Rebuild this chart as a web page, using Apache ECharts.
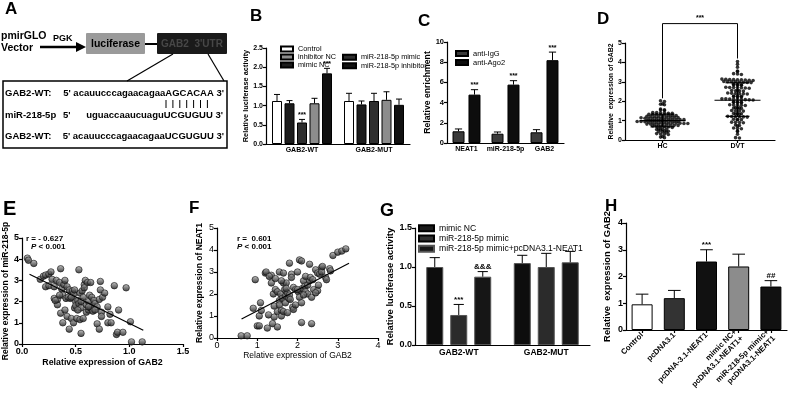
<!DOCTYPE html>
<html lang="en">
<head>
<meta charset="UTF-8">
<title>GAB2 / NEAT1 / miR-218-5p</title>
<style>
  html,body{margin:0;padding:0;background:#fff;}
  #main{width:790px;height:394px;}
</style>
</head>
<body>
<div id="main"></div>
<script src="https://cdn.jsdelivr.net/npm/echarts@6/dist/echarts.min.js"></script>
<script>
// ---------- data ----------
// B
const bCats=['GAB2-WT','GAB2-MUT'];
const bNames=['Control','mimic NC','miR-218-5p mimic','inhibitor NC','miR-218-5p inhibitor'];
const bVals=[[1.12,1.12],[1.06,1.03],[0.56,1.12],[1.06,1.15],[1.84,1.02]];
const bErr=[[0.17,0.2],[0.07,0.09],[0.08,0.2],[0.13,0.21],[0.13,0.15]];
const bMarks=[['',''],['',''],['***',''],['',''],['***','']];
// C
const cCats=['NEAT1','miR-218-5p','GAB2'];
const cNames=['anti-IgG','anti-Ago2'];
const cVals=[[1.16,0.92,1.06],[4.79,5.78,8.2]];
const cErr=[[0.23,0.17,0.26],[0.49,0.39,0.8]];
const cMarks=[['','',''],['***','***','***']];
// D
const dCats=['HC','DVT'];
const hcVals=[2.02,1.98,1.86,1.84,1.82,1.6,1.56,1.54,1.52,1.42,1.41,1.4,1.39,1.38,1.37,
  1.32,1.31,1.3,1.3,1.29,1.28,1.27,1.26,1.22,1.21,1.2,1.2,1.19,1.18,1.18,1.17,1.16,1.15,
  1.12,1.11,1.1,1.1,1.09,1.08,1.08,1.07,1.06,1.05,1.05,1.02,1.01,1.0,1.0,0.99,0.98,0.98,
  0.97,0.96,0.95,0.95,0.94,0.92,0.91,0.9,0.9,0.89,0.88,0.88,0.87,0.86,0.85,0.85,
  0.82,0.81,0.8,0.79,0.78,0.78,0.77,0.76,0.75,0.72,0.7,0.69,0.68,0.67,0.65,
  0.58,0.56,0.55,0.54,0.52,0.46,0.45,0.44,0.42,0.4,0.33,0.31,0.3,0.28,0.18,0.15,0.12];
const dvtVals=[4.05,3.9,3.75,3.56,3.53,3.42,3.4,3.38,3.14,3.13,3.12,3.11,3.1,3.1,3.09,3.08,3.07,
  3.02,3.01,3.0,3.0,2.99,2.98,2.97,2.96,2.87,2.86,2.85,2.84,2.83,2.82,
  2.72,2.71,2.7,2.7,2.69,2.68,2.67,2.56,2.55,2.54,2.53,2.52,2.42,2.41,2.4,2.39,2.38,2.37,
  2.27,2.26,2.25,2.24,2.23,2.22,2.13,2.12,2.11,2.1,2.1,2.09,2.08,2.07,2.06,
  1.97,1.96,1.95,1.94,1.93,1.92,1.82,1.81,1.8,1.79,1.78,1.67,1.66,1.65,1.64,1.63,
  1.52,1.51,1.5,1.49,1.37,1.36,1.35,1.34,1.33,1.22,1.21,1.2,1.2,1.19,1.18,
  1.07,1.06,1.05,1.04,0.92,0.91,0.9,0.89,0.77,0.75,0.73,0.62,0.6,0.58,0.47,0.44,0.3,0.12,0.1];
const dMean=[1.0,2.05];
const dSdLow=[0.68,1.22];
const dSdHigh=[1.33,2.95];
const dBracket=[2.15,4.2,6.0];
// E
const ePoints=[[0.05,4.05],[0.06,3.95],[0.11,3.8],[0.17,3.05],[0.2,3.2],[0.22,3.25],[0.22,2.7],[0.25,3.3],
  [0.27,3.4],[0.25,2.75],[0.28,3.05],[0.3,2.7],[0.3,2.15],[0.32,3.0],[0.33,1.85],[0.33,2.1],[0.35,2.9],
  [0.36,3.55],[0.37,2.6],[0.38,2.3],[0.36,1.45],[0.38,1.0],[0.39,2.8],[0.4,3.0],[0.41,2.15],[0.4,1.6],
  [0.42,2.7],[0.42,1.3],[0.43,2.2],[0.44,2.55],[0.44,0.7],[0.45,2.15],[0.46,1.2],[0.47,2.5],[0.48,1.0],
  [0.49,1.7],[0.5,2.0],[0.5,1.8],[0.51,1.2],[0.52,2.05],[0.53,3.5],[0.53,1.9],[0.54,2.4],[0.54,1.15],
  [0.55,0.5],[0.55,1.7],[0.56,2.5],[0.57,2.2],[0.57,1.2],[0.58,2.8],[0.59,3.0],[0.6,1.85],[0.6,1.5],
  [0.61,2.9],[0.62,2.0],[0.62,1.6],[0.63,2.3],[0.64,2.9],[0.64,1.7],[0.65,2.2],[0.66,1.8],[0.66,1.55],
  [0.67,2.05],[0.68,1.9],[0.7,0.95],[0.7,1.75],[0.72,2.1],[0.72,0.7],[0.73,2.95],[0.73,2.55],[0.74,1.5],
  [0.74,1.3],[0.75,2.2],[0.77,2.4],[0.8,1.75],[0.8,1.0],[0.82,1.4],[0.83,1.0],[0.86,2.75],[0.88,0.45],
  [0.89,0.55],[0.9,1.6],[0.94,0.55],[0.97,2.65],[1.01,1.05],[1.02,0.1],[1.12,0.1],[0.58,2.65],[0.48,2.35],
  [0.31,2.05],[0.68,1.6],[0.62,1.75],[0.46,2.2],[0.35,2.3],[0.55,2.0],[0.52,1.6],[0.49,2.55]];
const eLine=[[0.07,3.29],[1.13,0.65]];
// F
const fPoints=[[0.6,0.1],[0.75,0.1],[0.95,2.65],[0.9,1.35],[1.0,0.55],[1.05,0.55],[1.05,1.0],[1.08,1.6],
  [1.1,1.25],[1.2,2.95],[1.22,3.0],[1.25,0.45],[1.28,1.05],[1.35,2.85],[1.35,2.5],[1.38,0.65],[1.4,2.0],
  [1.42,1.45],[1.42,0.95],[1.45,2.7],[1.45,2.2],[1.5,2.1],[1.5,1.2],[1.5,0.5],[1.55,3.0],[1.55,1.7],
  [1.55,1.5],[1.58,2.0],[1.6,1.25],[1.6,1.0],[1.62,1.8],[1.65,2.95],[1.65,2.5],[1.65,1.2],[1.68,2.2],
  [1.7,1.9],[1.7,1.6],[1.72,2.5],[1.75,1.15],[1.75,2.05],[1.78,1.8],[1.8,3.4],[1.8,1.95],[1.82,1.75],
  [1.85,2.9],[1.85,2.75],[1.88,1.4],[1.9,1.3],[1.9,2.3],[1.95,2.2],[2.0,3.0],[2.02,2.1],[2.05,3.55],
  [2.05,1.85],[2.08,2.15],[2.1,3.5],[2.1,1.6],[2.1,0.7],[2.12,2.25],[2.15,2.6],[2.18,2.35],[2.2,2.8],
  [2.2,2.1],[2.25,2.0],[2.25,2.4],[2.3,2.6],[2.3,3.35],[2.32,2.75],[2.35,1.85],[2.35,0.65],[2.38,2.65],
  [2.4,2.2],[2.45,3.1],[2.5,2.95],[2.5,2.15],[2.52,2.4],[2.55,2.9],[2.6,3.2],[2.6,3.0],[2.62,3.25],
  [2.7,2.75],[2.72,2.65],[2.8,3.15],[2.82,3.05],[2.88,3.75],[3.0,3.9],[3.1,3.95],[3.2,4.05],[1.3,2.8],
  [1.6,2.6],[2.0,2.2],[1.95,1.5],[2.15,1.95],[1.72,2.25],[2.45,2.05]];
const fLine=[[0.61,0.86],[3.28,3.4]];
// G
const gCats=['GAB2-WT','GAB2-MUT'];
const gNames=['mimic NC','miR-218-5p mimic','miR-218-5p mimic+pcDNA3.1-NEAT1'];
const gVals=[[1.0,1.05],[0.385,1.0],[0.876,1.06]];
const gErr=[[0.12,0.1],[0.135,0.175],[0.065,0.14]];
const gMarks=[['',''],['***',''],['&&&','']];
// H
const hCats=['Control','pcDNA3.1','pcDNA-3.1-NEAT1','mimic NC+\npcDNA3.1-NEAT1+','miR-218-5p mimic+\npcDNA3.1-NEAT1'];
const hVals=[0.96,1.19,2.56,2.375,1.625];
const hErr=[0.38,0.29,0.44,0.46,0.22];
const hMarks=['','','***','','##'];

// ---------- styles ----------
const FONT="'Liberation Sans', Arial, sans-serif";
const bColors=['#ffffff','#1c1c1c','#2e2e2e','#8c8c8c','#111111'];
const cColors=['#3a3a3a','#0d0d0d'];
const gColors=['#0d0d0d','#2b2b2b','#161616'];
const hColors=['#ffffff','#333333','#111111','#8c8c8c','#111111'];
const ballColor={type:'linear',x:0,y:0,x2:0,y2:1,colorStops:[
  {offset:0,color:'#bdbdbd'},{offset:0.45,color:'#6a6a6a'},{offset:1,color:'#111'}]};

const chart=echarts.init(document.getElementById('main'),null,{renderer:'canvas'});

const grids=[
  {left:266,top:48,width:144,height:96},   // B
  {left:447,top:42,width:117,height:101},  // C
  {left:625,top:43,width:150,height:97},   // D
  {left:22,top:238,width:161,height:106},  // E
  {left:217,top:228,width:161,height:110}, // F
  {left:415,top:228,width:175,height:117}, // G
  {left:626,top:223,width:161,height:107}  // H
];

const line={show:true,lineStyle:{color:'#000',width:1.2}};
function lab(size,weight,extra){
  return Object.assign({color:'#000',fontSize:size,fontWeight:weight||'bold',fontFamily:FONT,margin:3},extra||{});
}
function catAxis(grid,data,size,extra){
  return Object.assign({type:'category',gridIndex:grid,position:'bottom',data:data,axisLine:line,
    axisTick:{show:false},axisLabel:lab(size,'bold',{interval:0}),splitLine:{show:false}},extra||{});
}
function valAxis(grid,min,max,step,size,fmt,extra){
  return Object.assign({type:'value',gridIndex:grid,min:min,max:max,interval:step,axisLine:line,
    axisTick:{show:true,length:3,lineStyle:{color:'#000',width:1.2}},
    axisLabel:lab(size,'bold',fmt?{formatter:fmt}:{}),splitLine:{show:false}},extra||{});
}
function yName(name,size,gap,weight){
  return {name:name,nameLocation:'middle',nameGap:gap,nameRotate:90,
    nameTextStyle:{color:'#000',fontSize:size,fontWeight:weight||'bold',fontFamily:FONT}};
}
const f1=v=>v.toFixed(1);

// error bars with significance marks, drawn through the axes
function errBars(xi,yi,vals,errs,marks,bw,gap,markSize){
  const data=[];
  vals.forEach((row,s)=>row.forEach((v,c)=>data.push([c,v,errs[s][c],s,marks[s][c]])));
  const n=vals.length;
  return {type:'custom',xAxisIndex:xi,yAxisIndex:yi,silent:true,z:5,clip:false,
    data:data.map(d=>d.slice(0,4)),
    renderItem:function(params,api){
      const c=api.value(0),v=api.value(1),e=api.value(2),s=api.value(3);
      const p0=api.coord([c,v]),p1=api.coord([c,v+e]);
      const x=p0[0]+(s-(n-1)/2)*(bw+gap);
      const cap=bw*0.3;
      const st={stroke:'#000',lineWidth:1};
      const ch=[
        {type:'line',shape:{x1:x,y1:p0[1],x2:x,y2:p1[1]},style:st},
        {type:'line',shape:{x1:x-cap,y1:p1[1],x2:x+cap,y2:p1[1]},style:st}
      ];
      const m=data[params.dataIndex][4];
      if(m) ch.push({type:'text',x:x,y:p1[1]-1,style:{text:m,fill:'#000',
        font:'bold '+markSize+'px '+FONT,align:'center',verticalAlign:'bottom'}});
      return {type:'group',children:ch};
    }};
}

// beeswarm layout for the dot plot: points with similar values share a row
function swarm(vals,center,step){
  const bins={};
  vals.forEach(v=>{const k=Math.round(v/0.1);(bins[k]=bins[k]||[]).push(v);});
  const pts=[];
  Object.keys(bins).forEach(k=>{
    const list=bins[k];
    list.forEach((v,i)=>pts.push([center+(i-(list.length-1)/2)*step,v]));
  });
  return pts;
}

const series=[];
// B bars
bNames.forEach((nm,i)=>series.push({name:nm,type:'bar',xAxisIndex:0,yAxisIndex:0,
  barWidth:10,barGap:'25%',data:bVals[i],
  itemStyle:{color:bColors[i],borderColor:'#000',borderWidth:1}}));
series.push(errBars(0,0,bVals,bErr,bMarks,10,2.5,7));
// C bars
cNames.forEach((nm,i)=>series.push({name:nm,type:'bar',xAxisIndex:1,yAxisIndex:1,
  barWidth:12,barGap:'33%',data:cVals[i],
  itemStyle:{color:cColors[i],borderColor:'#000',borderWidth:1}}));
series.push(errBars(1,1,cVals,cErr,cMarks,12,4,7));
// D dot plot
series.push({type:'scatter',xAxisIndex:2,yAxisIndex:2,symbolSize:3.6,
  data:swarm(hcVals,1,0.052),itemStyle:{color:'#000'}});
series.push({type:'scatter',xAxisIndex:2,yAxisIndex:2,symbolSize:3.6,
  data:swarm(dvtVals,2,0.052),itemStyle:{color:'#000'}});
series.push({type:'custom',xAxisIndex:2,yAxisIndex:2,silent:true,z:5,
  data:dMean.map((m,i)=>[i+1,m,dSdLow[i],dSdHigh[i]]),
  renderItem:function(params,api){
    const x=api.value(0);
    const pm=api.coord([x,api.value(1)]),pl=api.coord([x,api.value(2)]),ph=api.coord([x,api.value(3)]);
    const st={stroke:'#000',lineWidth:1.2};
    return {type:'group',children:[
      {type:'line',shape:{x1:pm[0]-23,y1:pm[1],x2:pm[0]+23,y2:pm[1]},style:st},
      {type:'line',shape:{x1:pl[0],y1:pl[1],x2:ph[0],y2:ph[1]},style:st},
      {type:'line',shape:{x1:pl[0]-12,y1:pl[1],x2:pl[0]+12,y2:pl[1]},style:st},
      {type:'line',shape:{x1:ph[0]-12,y1:ph[1],x2:ph[0]+12,y2:ph[1]},style:st}
    ]};
  }});
series.push({type:'custom',xAxisIndex:2,yAxisIndex:2,silent:true,clip:false,
  data:[[1,dBracket[0],2,dBracket[1],dBracket[2]]],
  renderItem:function(params,api){
    const a=api.coord([api.value(0),api.value(1)]),b=api.coord([api.value(0),api.value(4)]);
    const c=api.coord([api.value(2),api.value(4)]),d=api.coord([api.value(2),api.value(3)]);
    return {type:'group',children:[
      {type:'polyline',shape:{points:[a,b,c,d]},style:{stroke:'#000',lineWidth:1,fill:null}},
      {type:'text',x:(b[0]+c[0])/2,y:b[1]-2,style:{text:'***',fill:'#000',
        font:'bold 7px '+FONT,align:'center',verticalAlign:'bottom'}}
    ]};
  }});
// E
series.push({type:'scatter',xAxisIndex:4,yAxisIndex:3,symbolSize:6.5,data:ePoints,
  itemStyle:{color:ballColor,borderColor:'#111',borderWidth:0.8}});
series.push({type:'line',xAxisIndex:4,yAxisIndex:3,data:eLine,symbol:'none',z:4,
  lineStyle:{color:'#000',width:1.2}});
// F
series.push({type:'scatter',xAxisIndex:5,yAxisIndex:4,symbolSize:6.5,data:fPoints,
  itemStyle:{color:ballColor,borderColor:'#111',borderWidth:0.8}});
series.push({type:'line',xAxisIndex:5,yAxisIndex:4,data:fLine,symbol:'none',z:4,
  lineStyle:{color:'#000',width:1.2}});
// G bars
gNames.forEach((nm,i)=>series.push({name:nm,type:'bar',xAxisIndex:6,yAxisIndex:5,
  barWidth:17,barGap:'41%',data:gVals[i],
  itemStyle:{color:gColors[i],borderColor:'#555',borderWidth:1}}));
series.push(errBars(6,5,gVals,gErr,gMarks,17,7,8));
// H bars
series.push({type:'bar',xAxisIndex:7,yAxisIndex:6,barWidth:21,
  data:hVals.map((v,i)=>({value:v,itemStyle:{color:hColors[i]}})),
  itemStyle:{borderColor:'#000',borderWidth:1}});
series.push(errBars(7,6,[hVals],[hErr],[hMarks],21,0,8));

// ---------- panel A diagram + panel letters ----------
const T=(text,x,y,size,extra)=>({type:'text',x:x,y:y,
  style:Object.assign({text:text,fill:'#000',font:'bold '+size+'px '+FONT,verticalAlign:'middle'},extra||{})});
const graphics=[
  T('A',5,9,17),T('B',250,16,17),T('C',418,21,17),T('D',597,19,17),
  T('E',3,209,20),T('F',189,208,17),T('G',380,211,18),T('H',605,206,17),
  T('pmirGLO',1,36,10.5),T('Vector',1,48,10.5),T('PGK',53,39,9),
  {type:'line',shape:{x1:40,y1:47,x2:78,y2:47},style:{stroke:'#000',lineWidth:2.5}},
  {type:'polygon',shape:{points:[[76,42],[86,47],[76,52]]},style:{fill:'#000'}},
  {type:'rect',shape:{x:86,y:33,width:59,height:21,r:1},style:{fill:'#9a9a9a'}},
  T('luciferase',115.5,44,10.5,{align:'center'}),
  {type:'line',shape:{x1:145,y1:44,x2:157,y2:44},style:{stroke:'#000',lineWidth:2}},
  {type:'rect',shape:{x:157,y:33,width:70,height:21,r:1},style:{fill:'#1a1a1a'}},
  T("GAB2  3'UTR",192,44,10,{align:'center',fill:'#474747'}),
  {type:'line',shape:{x1:173,y1:54,x2:127,y2:81},style:{stroke:'#000',lineWidth:1.2}},
  {type:'line',shape:{x1:208,y1:54,x2:224,y2:81},style:{stroke:'#000',lineWidth:1.2}},
  {type:'rect',shape:{x:3,y:81,width:224,height:67},style:{fill:null,stroke:'#000',lineWidth:1.5}},
  T('GAB2-WT:',5,93,9.5),T("5' acauucccagaacagaaAGCACAA 3'",224,93,9.5,{align:'right'}),
  T('miR-218-5p',5,115,9.5),T("5'",63,115,9.5),T("uguaccaaucuaguUCGUGUU 3'",223,115,9.5,{align:'right'}),
  T('GAB2-WT:',5,136,9.5),T("5' acauucccagaacagaaUCGUGUU 3'",224,136,9.5,{align:'right'}),
  // E / F correlation notes
  {type:'text',x:26,y:239,style:{text:'r = - 0.627',fill:'#000',font:'bold 8px '+FONT,verticalAlign:'middle'}},
  {type:'text',x:31,y:247,style:{text:'{i|P} < 0.001',fill:'#000',font:'bold 8px '+FONT,verticalAlign:'middle',
    rich:{i:{fontStyle:'italic',fontWeight:'bold',fontSize:8,fontFamily:FONT}}}},
  {type:'text',x:237,y:239,style:{text:'r =  0.601',fill:'#000',font:'bold 8px '+FONT,verticalAlign:'middle'}},
  {type:'text',x:237,y:247,style:{text:'{i|P} < 0.001',fill:'#000',font:'bold 8px '+FONT,verticalAlign:'middle',
    rich:{i:{fontStyle:'italic',fontWeight:'bold',fontSize:8,fontFamily:FONT}}}}
];
// base-pairing ticks between the target site and the seed
for(let i=0;i<7;i++){
  graphics.push({type:'line',shape:{x1:166+i*6.9,y1:100,x2:166+i*6.9,y2:108},style:{stroke:'#000',lineWidth:1}});
}

const legendText=size=>({color:'#000',fontSize:size,fontFamily:FONT,fontWeight:'normal'});
const option={
  animation:false,
  backgroundColor:'#fff',
  grid:grids,
  xAxis:[
    catAxis(0,bCats,7),
    catAxis(1,cCats,7),
    {type:'value',gridIndex:2,position:'bottom',min:0.5,max:2.5,show:false},
    catAxis(2,dCats,7,{axisTick:{show:true,length:3,alignWithLabel:true,lineStyle:{color:'#000',width:1.2}}}),
    valAxis(3,0,1.5,0.5,9,f1,{name:'Relative expression of GAB2',nameLocation:'middle',nameGap:14,
      nameTextStyle:{color:'#000',fontSize:8.8,fontWeight:'bold',fontFamily:FONT}}),
    valAxis(4,0,4,1,9,null,{name:'Relative expression of GAB2',nameLocation:'middle',nameGap:13,
      axisLabel:lab(9,'normal'),
      nameTextStyle:{color:'#000',fontSize:8.5,fontWeight:'normal',fontFamily:FONT}}),
    catAxis(5,gCats,8.5),
    catAxis(6,hCats,7.8,{axisTick:{show:true,length:3,alignWithLabel:true,lineStyle:{color:'#000',width:1.2}},
      axisLabel:lab(7.8,'bold',{rotate:45,interval:0,margin:4,lineHeight:9})})
  ],
  yAxis:[
    Object.assign(valAxis(0,0,2.5,0.5,7,f1),yName('Relative luciferase activity',7.4,16)),
    Object.assign(valAxis(1,0,10,2,7.5),yName('Relative enrichment',8.7,15)),
    Object.assign(valAxis(2,0,5,1,7),yName('Relative  expression of GAB2',6.9,8)),
    Object.assign(valAxis(3,0,5,1,9),yName('Relative expression of miR-218-5p',8.5,9)),
    Object.assign(valAxis(4,0,5,1,9,null,{axisLabel:lab(9,'normal')}),yName('Relative expression of NEAT1',8.5,13)),
    Object.assign(valAxis(5,0,1.5,0.5,9,f1),yName('Relative luciferase activity',9.4,20)),
    Object.assign(valAxis(6,0,4,1,9),yName('Relative  expression of GAB2',9.4,14))
  ],
  legend:[
    {data:['Control','inhibitor NC','mimic NC'],left:275,top:40,orient:'vertical',icon:'rect',
      itemWidth:12,itemHeight:5,itemGap:0,textStyle:Object.assign(legendText(7.3),{lineHeight:8})},
    {data:['miR-218-5p mimic','miR-218-5p inhibitor'],left:337,top:48,orient:'vertical',icon:'rect',
      itemWidth:13,itemHeight:5,itemGap:0,textStyle:Object.assign(legendText(7.3),{lineHeight:8.5})},
    {data:['anti-IgG','anti-Ago2'],left:450,top:44,orient:'vertical',icon:'rect',
      itemWidth:12,itemHeight:5,itemGap:0,textStyle:Object.assign(legendText(7.5),{lineHeight:9})},
    {data:gNames,left:413,top:218,orient:'vertical',icon:'rect',
      itemWidth:15,itemHeight:6,itemGap:0,textStyle:Object.assign(legendText(8.6),{lineHeight:10.3})}
  ],
  graphic:graphics,
  series:series
};
chart.setOption(option);
</script>
</body>
</html>
